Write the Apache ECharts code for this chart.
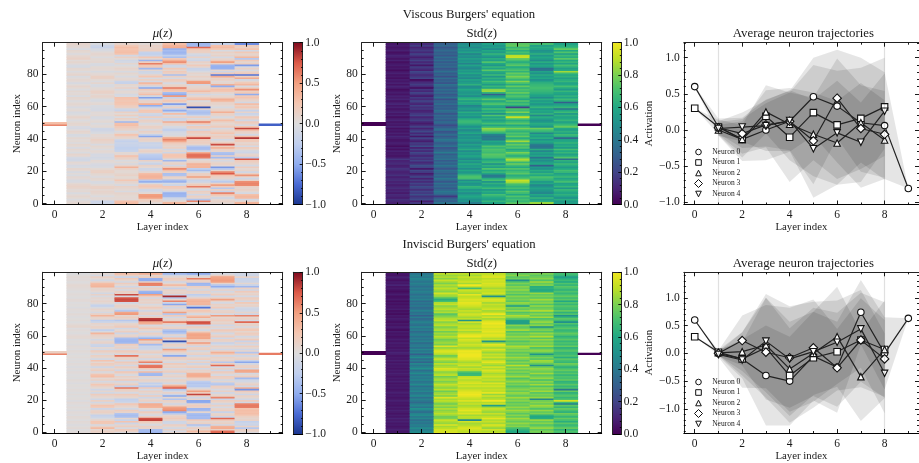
<!DOCTYPE html>
<html><head><meta charset="utf-8">
<style>html,body{margin:0;padding:0;background:#fff;overflow:hidden}#c{width:919px;height:463px}</style>
<script src="https://cdn.jsdelivr.net/npm/echarts@6/dist/echarts.min.js"></script>
</head><body><div id="c"></div>
<script>
// Values are percent of activation; each array runs from neuron 0 upward.
const muV1=[8,6,4,-3,5,8,3,-4,6,4,9,12,10,5,-5,-6,4,7,-4,3,-6,5,8,-4,-7,3,6,-10,-11,-8,6,9,-4,3,7,-5,4,8,-3,5,3,7,-4,-6,5,9,2,-7,-5,6,8,4,-3,6,10,3,-4,-6,5,2,-5,4,7,3,-3,6,8,-4,5,3,7,-3,5,9,2,-6,4,7,3,-4,10,6,-3,5,7,-8,-6,4,8,3,12,10,6,-3,5,8,-4,4,7,9];
const muV2=[-8,-14,-16,4,6,-3,5,8,10,6,12,13,6,-4,-5,5,7,-3,4,8,14,12,5,-4,-7,-5,3,6,-6,-10,-5,-8,4,6,-3,5,7,-5,8,10,14,8,4,6,-4,-9,-13,-12,5,3,-4,6,3,-5,-6,5,3,4,-7,-8,-5,-4,6,3,-6,-4,8,10,5,12,13,6,4,-5,-4,8,-3,5,12,14,6,4,-6,3,6,5,-5,-4,7,5,4,-3,6,8,4,-5,-6,-18,-14,-4];
const muV3=[32,30,28,4,6,5,8,10,-5,6,8,12,-6,6,10,24,7,5,12,8,5,6,14,38,10,-7,5,-4,9,16,28,6,5,-18,-22,-24,-20,-18,-15,-22,-12,8,14,26,8,-5,10,14,20,30,28,-42,6,14,-4,16,4,14,-18,-10,14,18,24,26,22,26,28,-4,-8,5,6,-6,12,4,8,-20,-16,7,6,-5,4,8,-6,6,10,5,-4,8,-8,-12,4,14,-10,26,30,28,26,30,22,10];
const muV4=[-10,6,14,16,48,52,50,6,-8,-12,12,24,20,-6,-48,-30,34,38,36,30,8,-10,-14,6,12,-20,-8,14,-35,-30,-28,-25,8,14,6,-22,-18,-14,-20,8,14,10,-52,-20,6,14,-6,10,14,6,-6,10,14,-10,16,-16,-10,20,24,8,-18,-50,40,10,14,-12,-55,-10,30,16,8,20,-52,-12,18,34,-8,14,-6,24,10,-10,-14,8,-42,20,24,62,16,-45,8,24,-16,-24,-20,16,14,10,12,4];
const muV5=[36,34,8,-10,-14,-42,-44,-46,-14,8,18,24,-14,-6,-46,-38,8,14,-34,-36,14,30,58,24,-10,14,8,-42,-10,22,26,24,-14,8,-10,14,8,14,20,44,60,46,8,-8,-6,-12,-26,-14,-6,8,14,42,-12,-16,12,-6,30,-14,-50,-20,14,-14,-56,8,26,14,-20,52,-50,-38,22,30,64,16,8,-6,14,18,-8,14,-36,14,20,8,22,-10,-12,28,56,40,20,-36,-24,-40,-44,-38,-46,42,38,30];
const muV6=[-10,6,60,-34,8,14,-12,10,16,-8,10,62,22,8,-14,-18,12,50,16,14,-8,-40,-24,36,34,38,14,6,-6,62,68,66,40,-12,-36,-38,-30,8,16,14,22,80,26,8,14,20,-14,12,18,-8,26,62,14,-6,16,-14,-34,-36,-30,10,-88,14,10,8,-4,30,18,6,-12,14,32,16,10,8,-10,52,50,8,6,14,4,10,-6,-14,-18,8,20,6,12,-14,-8,12,-12,-6,14,16,22,70,-40,-42];
const muV7=[-8,8,12,6,-14,8,28,60,-20,14,-30,18,50,14,-28,-16,10,12,24,75,60,8,-32,-58,6,14,8,-8,10,-40,14,-38,-34,10,14,38,16,80,18,6,-10,12,18,10,26,14,8,-8,20,12,6,14,30,8,-6,10,14,40,14,8,-6,6,10,12,34,40,14,8,-6,10,24,28,16,-50,40,8,4,14,10,42,-70,20,-14,8,-46,-48,-44,14,50,20,8,-8,12,6,14,-6,22,32,28,-20];
const muV8=[40,36,8,-10,32,34,28,-8,6,14,8,14,58,60,56,12,-14,8,54,14,-12,10,6,18,-10,8,14,20,76,-26,12,8,-14,-10,8,18,-8,14,6,20,22,86,30,-10,8,14,32,82,24,-8,14,20,-12,14,22,-8,-16,10,-20,8,24,14,30,-10,8,14,26,20,-50,22,16,56,18,-6,34,24,8,-10,42,14,-72,20,10,-8,14,-6,-56,16,8,22,-30,34,12,8,22,-10,26,14,18,-62];
const stdV1=[13,9,11,14,8,10,12,7,11,9,13,10,8,12,9,13,11,8,14,10,9,12,15,10,8,13,11,9,16,8,5,7,6,9,4,8,3,7,9,6,5,8,11,6,9,5,8,4,10,6,8,5,10,7,4,9,6,10,7,5,9,6,11,8,5,10,7,9,5,8,6,3,8,10,5,9,6,8,4,7,5,9,6,3,7,5,8,6,4,9,5,8,10,6,4,9,7,5,8,6];
const stdV2=[20,16,8,22,18,14,24,17,21,13,19,23,15,20,12,18,9,22,14,7,17,21,6,19,24,15,11,20,14,18,10,16,22,12,19,9,23,15,18,8,14,20,6,18,11,22,16,9,19,13,7,11,18,14,10,20,16,12,9,17,13,19,10,15,21,12,17,8,14,20,11,16,3,12,18,14,9,3,20,15,12,17,21,9,14,18,6,16,11,19,13,8,15,20,11,17,14,9,18,12];
const stdV3=[36,38,30,34,28,16,32,36,40,33,28,35,31,38,27,33,40,30,36,29,34,37,26,32,39,30,35,28,38,33,36,29,42,34,30,26,38,32,28,35,40,33,27,36,30,25,38,34,28,22,31,36,28,34,30,35,26,33,37,29,32,28,36,30,34,24,38,31,27,35,30,36,28,33,38,26,32,29,36,24,34,28,37,31,26,35,30,34,28,36,30,36,27,33,29,35,31,26,34,30];
const stdV4=[46,42,52,50,56,60,54,48,58,52,62,66,54,50,58,48,70,72,68,56,52,60,48,56,54,62,50,58,46,54,60,52,56,48,62,54,50,58,46,52,56,50,54,48,60,52,46,58,50,56,64,68,66,60,50,58,54,62,48,56,50,44,58,62,54,66,60,48,56,52,54,60,50,48,64,56,52,58,46,54,48,60,52,56,46,50,58,44,54,50,56,48,52,44,58,50,54,46,52,48];
const stdV5=[62,58,66,56,60,64,70,58,62,54,68,60,56,64,52,70,62,42,40,58,66,60,72,56,64,50,68,62,58,70,72,74,68,70,72,66,72,58,54,60,40,42,38,44,62,72,80,84,66,58,70,62,56,64,58,72,50,66,60,70,56,62,72,66,58,74,60,54,30,64,84,82,58,66,54,62,70,58,64,52,68,56,62,74,58,66,52,60,72,56,62,50,58,66,54,60,48,56,52,58];
const stdV6=[82,72,66,70,64,72,60,68,74,62,70,64,68,76,88,92,72,66,62,74,70,64,72,60,68,78,66,84,88,72,62,70,80,66,60,72,68,76,64,86,70,62,76,68,72,64,70,80,66,60,74,68,62,76,92,70,64,80,68,72,20,62,70,64,74,60,68,72,66,76,68,72,64,76,62,70,82,66,72,80,70,76,64,72,66,60,74,68,62,70,76,92,90,64,70,62,72,66,76,74];
const stdV7=[86,84,62,56,66,52,60,46,50,54,58,50,46,60,54,64,68,72,60,66,56,62,50,54,30,60,56,48,54,38,60,52,58,46,62,40,38,42,56,60,50,62,54,60,46,66,70,78,52,58,62,54,50,58,62,46,64,56,60,52,66,58,52,60,54,62,48,56,60,64,66,68,70,68,66,64,58,50,60,54,62,50,58,40,36,56,60,52,62,48,56,60,52,64,54,50,58,62,56,70];
const stdV8=[60,56,54,62,50,58,64,58,62,66,52,66,60,56,70,64,58,68,62,56,66,70,60,54,62,68,58,64,36,72,62,56,66,60,70,54,62,58,66,60,56,34,62,68,58,64,56,60,76,70,62,56,66,60,58,64,54,68,60,38,66,60,56,30,62,68,58,64,56,60,66,54,62,70,60,58,66,62,56,64,60,68,86,62,56,64,70,58,66,60,74,62,68,56,72,60,76,66,62,58];
const muI1=[3,2,-2,4,1,-3,2,4,-1,3,4,-2,2,3,-3,1,3,-2,2,4,-3,2,1,-2,3,-2,2,3,-1,2,1,-3,2,4,-2,1,-1,2,3,-2,2,-3,1,3,-2,2,-1,3,1,-2,2,4,-1,2,3,-3,1,2,-2,4,6,3,-2,1,3,-1,8,7,2,-2,3,1,-2,2,4,-1,2,3,-3,1,2,-1,3,4,-2,1,3,2,-1,2,3,5,6,2,-1,3,2,4,1,-2];
const muI2=[10,14,6,32,12,-8,22,24,10,-6,-16,-20,8,14,10,-14,18,26,8,-10,14,-12,6,10,18,-10,8,-14,6,12,24,10,-8,14,6,30,28,10,-6,16,8,-12,12,18,6,26,-10,8,14,-6,10,18,-8,6,-18,-14,12,8,-10,6,10,14,36,-6,-24,8,14,6,10,-14,-26,8,10,36,14,-8,6,10,-6,-22,-12,6,10,4,8,-6,12,-10,6,10,8,36,34,30,10,-10,6,14,-8,6];
const muI3=[-8,12,20,-6,16,8,-14,26,-18,8,-36,-38,-32,10,18,-10,6,14,24,-12,-20,-24,8,14,20,-8,10,16,64,-22,16,8,-10,20,6,14,-6,10,24,-14,8,16,-10,12,20,-8,10,14,66,-8,14,20,-10,12,8,18,-40,-44,-42,-38,12,8,-14,16,6,-10,20,14,8,-12,-30,10,16,8,52,46,-30,-12,8,14,6,-10,78,80,76,-6,80,10,14,-8,12,-12,6,18,-10,8,22,-16,14,30];
const muI4=[-44,-40,-38,10,14,-8,8,22,82,78,14,-8,8,18,-12,6,36,40,42,-10,14,8,-14,18,-10,8,14,-8,20,-30,-12,-24,8,14,-6,10,-42,-40,32,-8,22,66,64,-8,60,18,-10,14,8,-6,16,10,-12,-16,-14,-40,20,12,50,-48,-18,8,14,-10,6,24,10,-6,40,44,88,84,18,-8,14,10,-12,8,20,6,-6,12,8,14,-10,18,50,-50,-44,8,14,-8,60,62,14,-50,-48,16,8,40];
const muI5=[14,-8,12,-10,8,16,-12,-14,10,20,14,8,-30,-50,58,52,48,10,-12,8,14,-32,8,-52,-14,12,-8,-30,72,52,16,-10,8,14,-6,12,8,-12,18,10,-8,14,8,20,-10,6,12,16,-52,-12,10,22,50,-10,8,14,-14,-88,10,30,-12,8,-30,-42,-34,14,8,-10,18,62,12,8,-10,20,-30,50,14,8,-12,10,-52,-14,60,8,-30,90,-10,12,8,14,-20,10,32,8,-12,14,18,8,-10,-42];
const muI6=[14,32,8,16,-12,-34,14,8,20,-40,-38,-42,-36,8,-40,-44,12,18,8,-50,-52,10,-14,14,82,18,50,12,-8,-30,-28,-32,-26,10,14,40,42,38,8,12,-10,18,8,-14,14,-8,16,8,-12,14,8,-10,16,12,-12,18,52,10,20,46,44,48,42,14,-10,8,18,-12,76,78,14,8,42,20,-8,12,24,10,-72,-14,36,34,38,32,12,-12,-26,8,14,-10,8,16,-40,-44,12,14,62,8,-12,-50];
const muI7=[70,68,12,42,38,-10,14,8,20,70,-14,12,8,-18,16,10,-8,14,-12,8,16,-14,60,10,8,-12,14,-8,12,16,-30,-28,8,-10,14,18,-8,10,20,-12,14,-8,70,16,-30,12,8,14,-10,18,40,12,-12,8,14,-8,-20,10,14,-12,18,8,-10,14,20,-8,10,-12,14,8,18,12,8,52,-8,14,10,-10,20,8,14,-8,10,50,14,-10,18,8,-10,12,-14,-50,-30,10,50,52,48,46,14,-8];
const muI8=[-8,10,14,-30,12,-18,-14,-22,12,8,14,22,30,28,30,26,62,64,60,-10,18,-12,8,14,-14,10,20,-60,40,-10,14,8,-10,-12,-40,18,8,-8,44,46,-8,14,12,-10,-52,-20,14,8,-12,14,-32,10,-14,8,16,-10,12,-18,20,8,-10,14,18,8,22,14,-8,12,10,70,-8,14,8,60,-12,10,-10,-14,-8,14,8,22,-10,14,18,-8,12,8,20,-12,14,-42,-18,8,-14,-16,-18,10,-14,-12];
const stdI1=[8,6,9,7,5,8,6,9,7,10,6,8,5,7,9,6,8,5,7,6,9,7,5,8,6,9,7,5,8,6,7,5,9,6,8,5,7,9,6,8,5,7,6,8,5,9,6,7,5,8,10,6,8,5,7,6,9,5,8,6,4,7,5,8,3,6,9,5,7,4,6,8,5,7,3,6,4,8,5,7,4,6,3,7,5,4,8,6,3,5,7,5,10,6,8,4,7,9,5,6];
const stdI2=[50,46,42,48,40,44,38,42,36,46,40,48,44,36,42,50,38,46,42,34,40,44,36,48,42,38,46,40,44,36,48,42,38,46,40,44,38,48,42,36,50,44,38,46,32,42,36,48,40,30,44,38,46,36,42,40,34,44,38,42,36,44,40,34,42,38,46,36,40,44,38,34,42,30,40,36,44,38,34,42,36,40,34,44,38,42,36,40,44,38,42,36,40,44,38,42,46,40,44,38];
const stdI3=[96,94,95,90,86,96,84,88,92,80,78,84,90,86,82,88,80,86,78,84,90,86,96,80,88,84,78,90,82,86,92,86,80,88,84,78,90,86,82,92,96,88,84,90,80,86,92,84,78,88,94,96,90,84,96,80,86,82,78,84,90,82,86,78,88,84,80,90,86,82,92,88,84,78,74,88,84,90,86,82,92,88,70,62,72,84,88,94,82,86,90,84,88,80,86,92,82,88,84,90];
const stdI4=[92,90,94,96,92,88,86,94,48,88,90,86,96,92,98,94,90,86,92,88,96,90,94,98,100,98,96,92,88,94,90,96,92,88,94,90,68,66,72,88,92,86,94,90,86,92,96,98,100,100,98,100,92,86,90,94,88,92,96,90,100,98,92,86,94,88,92,90,86,94,52,90,86,92,94,88,92,86,90,94,96,98,94,96,92,90,98,86,90,94,70,92,100,86,94,90,88,92,86,90];
const stdI5=[92,88,94,84,90,96,86,92,88,98,90,86,92,84,88,92,86,56,94,88,100,90,86,94,84,98,90,92,88,94,90,96,86,92,88,94,90,86,92,96,88,94,84,90,98,92,86,94,88,92,84,90,96,86,92,98,84,52,92,88,96,98,94,98,96,94,98,96,100,98,92,86,94,88,100,90,86,94,90,88,92,86,94,96,90,50,88,94,90,92,86,92,94,96,92,94,90,96,94,90];
const stdI6=[62,60,66,70,82,78,84,76,80,86,76,82,74,80,86,78,84,76,80,74,82,78,86,74,80,84,76,82,78,72,80,76,84,78,72,86,80,74,82,76,84,78,90,76,82,74,80,86,76,80,74,82,78,84,88,76,80,72,82,78,84,76,80,72,86,78,74,82,56,56,58,74,82,88,78,72,84,76,80,55,78,84,74,80,76,82,72,80,76,84,78,82,74,80,72,50,78,74,82,76];
const stdI7=[76,80,74,84,78,72,82,76,84,62,60,64,80,76,84,72,80,86,76,82,78,46,84,76,80,74,86,78,82,72,86,76,82,70,84,78,74,86,76,80,84,78,50,76,82,86,74,80,72,52,76,84,80,72,86,78,82,76,84,74,88,78,84,72,80,74,50,82,76,84,78,72,86,76,82,74,88,80,76,84,72,82,78,86,74,80,76,84,62,60,64,62,80,76,86,72,82,78,74,80];
const stdI8=[68,72,64,76,70,66,74,62,70,76,66,72,78,64,70,76,66,74,44,68,94,72,66,74,70,64,76,40,72,66,74,68,64,76,70,72,66,74,68,76,70,64,72,78,66,70,74,62,72,68,66,74,70,64,76,68,72,66,74,70,64,72,76,68,66,74,70,64,72,50,68,74,66,50,72,64,76,68,70,74,66,72,60,74,68,76,70,66,72,64,70,74,66,72,60,68,62,56,66,70];

// Neuron trajectories over layers 0..9; null where the neuron is absent from that layer
const trajV0=[.6,.04,-.13,0,.12,.46,.33,.1,.06,-.81];
const trajV1=[.3,.04,-.13,.19,-.1,.24,.07,.16,.32,null];
const trajV2=[null,0,-.13,.25,.08,-.06,-.18,.1,-.14,null];
const trajV3=[null,.03,-.05,.07,.12,-.15,.44,.02,-.06,null];
const trajV4=[null,.02,.04,.06,.13,-.26,-.04,-.17,.26,null];
const spreadV0=[0,.12,.3,.42,.42,.54,.78,.9,.74,0];
const spreadV1=[0,.1,.2,.43,.62,.66,.75,.7,.68,null];
const spreadV2=[null,.07,.25,.3,.5,.58,.58,.55,.55,null];
const spreadV3=[null,.08,.2,.3,.4,.6,.55,.6,.6,null];
const spreadV4=[null,.1,.2,.35,.42,.68,.72,.55,.52,null];
const trajI0=[.6,0,-.1,-.4,-.5,-.05,-.25,.74,0,.63];
const trajI1=[.3,.02,-.1,.1,-.4,-.08,.03,.24,.07,null];
const trajI2=[null,.01,.03,.15,-.28,0,.3,-.42,.07,null];
const trajI3=[null,0,.23,.02,-.08,.1,-.26,.24,-.1,null];
const trajI4=[null,-.02,-.12,.22,-.1,.03,.2,.44,-.36,null];
const spreadI0=[0,.05,.35,.9,.8,.8,.82,.58,.65,0];
const spreadI1=[0,.05,.3,.9,.85,.9,.7,.85,.85,null];
const spreadI2=[null,.05,.35,.85,.85,.75,.9,.8,.88,null];
const spreadI3=[null,.05,.45,.85,.9,.87,.7,.75,.7,null];
const spreadI4=[null,.05,.5,.85,.95,.9,.75,.7,.72,null];

const neuronNames=['Neuron 0','Neuron 1','Neuron 2','Neuron 3','Neuron 4'];
const inputMuV=[60,30], outputMuV=-80, inputMuI=[60,15], outputMuI=63;
const guideLayers=[1,8];
const xMajor=[0,2,4,6,8], xMinor=[1,3,5,7,9];
const heatYMajor=[0,20,40,60,80];
const heatYMinor=[5,10,15,25,30,35,45,50,55,65,70,75,85,90,95];
const cbMuMajor=[-1,-.5,0,.5,1];
const cbMuMinor=[-.9,-.8,-.7,-.6,-.4,-.3,-.2,-.1,.1,.2,.3,.4,.6,.7,.8,.9];
const cbStdMajor=[0,.2,.4,.6,.8,1];
const cbStdMinor=[.04,.08,.12,.16,.24,.28,.32,.36,.44,.48,.52,.56,.64,.68,.72,.76,.84,.88,.92,.96];
const trajYMajor=[-1,-.5,0,.5,1];
const trajYMinorV=[-.9,-.8,-.7,-.6,-.4,-.3,-.2,-.1,.1,.2,.3,.4,.6,.7,.8,.9,1.1,1.2];
const trajYMinorI=[-1.4,-1.3,-1.2,-1.1,-.9,-.8,-.7,-.6,-.4,-.3,-.2,-.1,.1,.2,.3,.4,.6,.7,.8,.9,1.1,1.2,1.3,1.4];

const coolStops=[[-1,'#1b3690'],[-.75,'#4a6bd4'],[-.5,'#90adef'],[-.25,'#c0cfee'],[0,'#dddcdc'],[.25,'#f4c6b1'],[.5,'#f2a080'],[.75,'#dc5a48'],[1,'#7f0a1e']];
const virStops=[[0,'#440154'],[.1,'#482475'],[.2,'#414487'],[.3,'#355f8d'],[.4,'#2a788e'],[.5,'#21918c'],[.6,'#22a884'],[.7,'#44bf70'],[.8,'#7ad151'],[.9,'#bddf26'],[1,'#f0e620']];

const SERIF='"Liberation Serif","DejaVu Serif",serif';
const INK='#1a1a1a';
const hex=h=>[1,3,5].map(i=>parseInt(h.substr(i,2),16));
function ramp(stops,v){
  v=Math.max(stops[0][0],Math.min(stops[stops.length-1][0],v));
  for(let i=1;i<stops.length;i++){
    if(v<=stops[i][0]){
      const t=(v-stops[i-1][0])/(stops[i][0]-stops[i-1][0]);
      const a=hex(stops[i-1][1]),b=hex(stops[i][1]);
      return 'rgb('+a.map((c,k)=>Math.round(c+(b[k]-c)*t)).join(',')+')';
    }
  }
}
const grid=[],xAxis=[],yAxis=[],series=[],title=[],legend=[];
const fmt1=v=>(v<0?'\u2212':'')+Math.abs(v).toFixed(1);
const fmt0=v=>String(v);

function axis(gi,o){
  const a={gridIndex:gi,type:'value',min:o.min,max:o.max,position:o.pos,z:6,splitLine:{show:false},
    axisLine:{show:!!o.line,onZero:false,lineStyle:{color:o.lineColor||'#222',width:1}},
    axisTick:{show:!!o.ticks,inside:true,length:o.len||4,lineStyle:{color:'#000',width:.9}},
    axisLabel:{show:!!o.labels,color:INK,fontFamily:SERIF,fontSize:11.5,margin:o.margin||4,formatter:o.fmt||fmt0,hideOverlap:false}};
  if(o.ticks)a.axisTick.customValues=o.ticks;
  if(o.labels)a.axisLabel.customValues=o.labels;
  if(o.name){a.name=o.name;a.nameLocation='middle';a.nameGap=o.gap;a.nameTextStyle={color:INK,fontFamily:SERIF,fontSize:10.8};}
  return a;
}
function addFrame(box,xr,yr,spec){
  const gi=grid.length;
  grid.push({left:box[0],top:box[1],width:box[2],height:box[3],containLabel:false});
  const xi=xAxis.length,yi=yAxis.length;
  xAxis.push(axis(gi,{min:xr[0],max:xr[1],pos:'bottom',line:true,lineColor:'#000',ticks:spec.xMaj,labels:spec.xMaj,name:spec.xName,gap:spec.xGap,margin:spec.xMargin||4}));
  xAxis.push(axis(gi,{min:xr[0],max:xr[1],pos:'top',line:true,ticks:spec.xMaj}));
  if(spec.xMin){
    xAxis.push(axis(gi,{min:xr[0],max:xr[1],pos:'bottom',ticks:spec.xMin,len:2}));
    xAxis.push(axis(gi,{min:xr[0],max:xr[1],pos:'top',ticks:spec.xMin,len:2}));
  }
  if(spec.cb){
    yAxis.push(axis(gi,{min:yr[0],max:yr[1],pos:'left',line:true}));
    yAxis.push(axis(gi,{min:yr[0],max:yr[1],pos:'right',line:true,ticks:spec.yMaj,labels:spec.yMaj,fmt:fmt1,len:3,margin:2.5}));
    yAxis.push(axis(gi,{min:yr[0],max:yr[1],pos:'right',ticks:spec.yMin,len:1.5}));
  }else{
    yAxis.push(axis(gi,{min:yr[0],max:yr[1],pos:'left',line:true,ticks:spec.yMaj,labels:spec.yMaj,fmt:spec.yFmt,name:spec.yName,gap:spec.yGap,margin:4}));
    yAxis.push(axis(gi,{min:yr[0],max:yr[1],pos:'right',line:true,ticks:spec.yMaj}));
    yAxis.push(axis(gi,{min:yr[0],max:yr[1],pos:'left',ticks:spec.yMin,len:2}));
    yAxis.push(axis(gi,{min:yr[0],max:yr[1],pos:'right',ticks:spec.yMin,len:2}));
  }
  return {xi,yi};
}
function heatCells(cols,input,output){
  const out=[];
  cols.forEach((col,c)=>col.forEach((p,r)=>out.push([c+1,r,p/100])));
  input.forEach((p,i)=>out.push([0,49+i,p/100]));
  out.push([9,49,output/100]);
  return out;
}
function addHeat(box,stops,cells,row){
  const {xi,yi}=addFrame(box,[-.5,9.5],[-.5,99.5],{xMaj:xMajor,xMin:xMinor,yMaj:heatYMajor,yMin:heatYMinor,xName:'Layer index',xGap:row?18:16,xMargin:row?5:4,yName:'Neuron index',yGap:16});
  series.push({type:'custom',coordinateSystem:'cartesian2d',xAxisIndex:xi,yAxisIndex:yi,z:2,silent:true,progressive:0,animation:false,
    clip:true,data:cells,encode:{x:0,y:1},
    renderItem:(params,api)=>{
      const c=api.value(0),r=api.value(1),v=api.value(2);
      const a=api.coord([c-.5,r+.5]),b=api.coord([c+.5,r-.5]);
      return {type:'rect',shape:{x:a[0],y:a[1],width:b[0]-a[0]+.4,height:b[1]-a[1]+.8},style:{fill:ramp(stops,v)}};
    }});
}
function addBar(box,stops,vr,maj,min){
  const {xi,yi}=addFrame(box,[0,1],vr,{xMaj:[],yMaj:maj,yMin:min,cb:true});
  series.push({type:'custom',coordinateSystem:'cartesian2d',xAxisIndex:xi,yAxisIndex:yi,z:2,silent:true,animation:false,
    data:[[0,vr[0],1,vr[1]]],
    renderItem:(params,api)=>{
      const a=api.coord([api.value(0),api.value(3)]),b=api.coord([api.value(2),api.value(1)]);
      const span=vr[1]-vr[0];
      return {type:'rect',shape:{x:a[0],y:a[1],width:b[0]-a[0],height:b[1]-a[1]},
        style:{fill:new echarts.graphic.LinearGradient(0,1,0,0,stops.map(s=>({offset:(s[0]-vr[0])/span,color:s[1]})))}};
    }});
}
const TRIDOWN='path://M0 0L10 0L5 10Z';
const symbols=['circle','rect','triangle','diamond',TRIDOWN];
const symbolSize=[6.5,6.5,6.5,8.5,6.5];
const legendIcons=[
  'path://M0 0M10 10M8.5 5A3.5 3.5 0 1 1 1.5 5A3.5 3.5 0 1 1 8.5 5Z',
  'path://M0 0M10 10M1.5 1.5L8.5 1.5L8.5 8.5L1.5 8.5Z',
  'path://M0 0M10 10M5 1.5L8.5 8.5L1.5 8.5Z',
  'path://M5 0L10 5L5 10L0 5Z',
  'path://M0 0M10 10M1.5 1.5L8.5 1.5L5 8.5Z'];
function addTraj(box,yr,yMin,trajs,spreads,legendTop,row){
  const {xi,yi}=addFrame(box,[-.46,9.45],yr,{xMaj:xMajor,xMin:xMinor,yMaj:trajYMajor,yMin:yMin,yFmt:fmt1,xName:'Layer index',xGap:row?18:16,xMargin:row?5:4,yName:'Activation',yGap:22});
  trajs.forEach((t,k)=>{
    const pts=[];
    t.forEach((m,l)=>{if(m!==null)pts.push([l,m,spreads[k][l]]);});
    const band={type:'custom',coordinateSystem:'cartesian2d',xAxisIndex:xi,yAxisIndex:yi,z:1,silent:true,animation:false,
      data:[[pts[0][0],pts[0][1]]],
      renderItem:(params,api)=>{
        const up=pts.map(p=>api.coord([p[0],p[1]+p[2]]));
        const lo=pts.map(p=>api.coord([p[0],p[1]-p[2]])).reverse();
        return {type:'polygon',shape:{points:up.concat(lo)},style:{fill:'rgba(0,0,0,0.1)'}};
      }};
    if(k===0)band.markLine={silent:true,symbol:'none',animation:false,label:{show:false},lineStyle:{color:'rgba(0,0,0,0.12)',width:1.2,type:'solid'},data:guideLayers.map(g=>({xAxis:g}))};
    series.push(band);
  });
  trajs.forEach((t,k)=>{
    const pts=[];
    t.forEach((m,l)=>{if(m!==null)pts.push([l,m]);});
    series.push({type:'line',name:neuronNames[k],xAxisIndex:xi,yAxisIndex:yi,z:3+k*.01,silent:true,animation:false,data:pts,
      symbol:symbols[k],symbolSize:symbolSize[k],showAllSymbol:true,
      lineStyle:{color:'#222',width:1.2},itemStyle:{color:'#fff',borderColor:'#111',borderWidth:1.1},clip:false});
  });
  legend.push({left:694,top:legendTop,padding:0,orient:'vertical',itemWidth:8,itemHeight:8,itemGap:1.5,selectedMode:false,
    textStyle:{fontFamily:SERIF,fontSize:7.5,color:INK,padding:[0,0,0,4.7]},
    data:neuronNames.map((n,k)=>({name:n,icon:legendIcons[k],itemStyle:{color:'#fff',borderColor:'#111',borderWidth:1}}))});
}
function addTitle(text,cx,top,size){
  title.push({text,left:cx,top,textAlign:'center',padding:0,textStyle:{fontFamily:SERIF,fontWeight:'normal',fontSize:size,color:INK,
    rich:{i:{fontFamily:SERIF,fontStyle:'italic',fontSize:size,color:INK}}}});
}
const rowTop=[42.7,272.3],rowH=161.8;
// Row 1
addHeat([42.5,rowTop[0],240.2,rowH],coolStops,heatCells([muV1,muV2,muV3,muV4,muV5,muV6,muV7,muV8],inputMuV,outputMuV),0);
addBar([293.3,rowTop[0],9.4,rowH],coolStops,[-1,1],cbMuMajor,cbMuMinor);
addHeat([361.7,rowTop[0],240,rowH],virStops,heatCells([stdV1,stdV2,stdV3,stdV4,stdV5,stdV6,stdV7,stdV8],[0,0],0),0);
addBar([612.7,rowTop[0],8.6,rowH],virStops,[0,1],cbStdMajor,cbStdMinor);
addTraj([683.8,rowTop[0],239.5,rowH],[-1.032,1.208],trajYMinorV,[trajV0,trajV1,trajV2,trajV3,trajV4],[spreadV0,spreadV1,spreadV2,spreadV3,spreadV4],147.5,0);
// Row 2
addHeat([42.5,rowTop[1],240.2,rowH],coolStops,heatCells([muI1,muI2,muI3,muI4,muI5,muI6,muI7,muI8],inputMuI,outputMuI),1);
addBar([293.3,rowTop[1],9.4,rowH],coolStops,[-1,1],cbMuMajor,cbMuMinor);
addHeat([361.7,rowTop[1],240,rowH],virStops,heatCells([stdI1,stdI2,stdI3,stdI4,stdI5,stdI6,stdI7,stdI8],[0,0],0),1);
addBar([612.7,rowTop[1],8.6,rowH],virStops,[0,1],cbStdMajor,cbStdMinor);
addTraj([683.8,rowTop[1],239.5,rowH],[-1.434,1.459],trajYMinorI,[trajI0,trajI1,trajI2,trajI3,trajI4],[spreadI0,spreadI1,spreadI2,spreadI3,spreadI4],377.5,1);

addTitle("Viscous Burgers' equation",469,8.5,12.7);
addTitle("Inviscid Burgers' equation",469,238.5,12.7);
[27,257].forEach(t=>{
  addTitle('{i|\u03bc}({i|z})',162.6,t,12.8);
  addTitle('Std({i|z})',481.7,t,12.8);
  addTitle('Average neuron trajectories',803.4,t,12.8);
});
const chart=echarts.init(document.getElementById('c'),null,{renderer:'canvas'});
chart.setOption({animation:false,backgroundColor:'#fff',grid,xAxis,yAxis,series,title,legend,tooltip:{show:false}});
</script>
</body></html>
